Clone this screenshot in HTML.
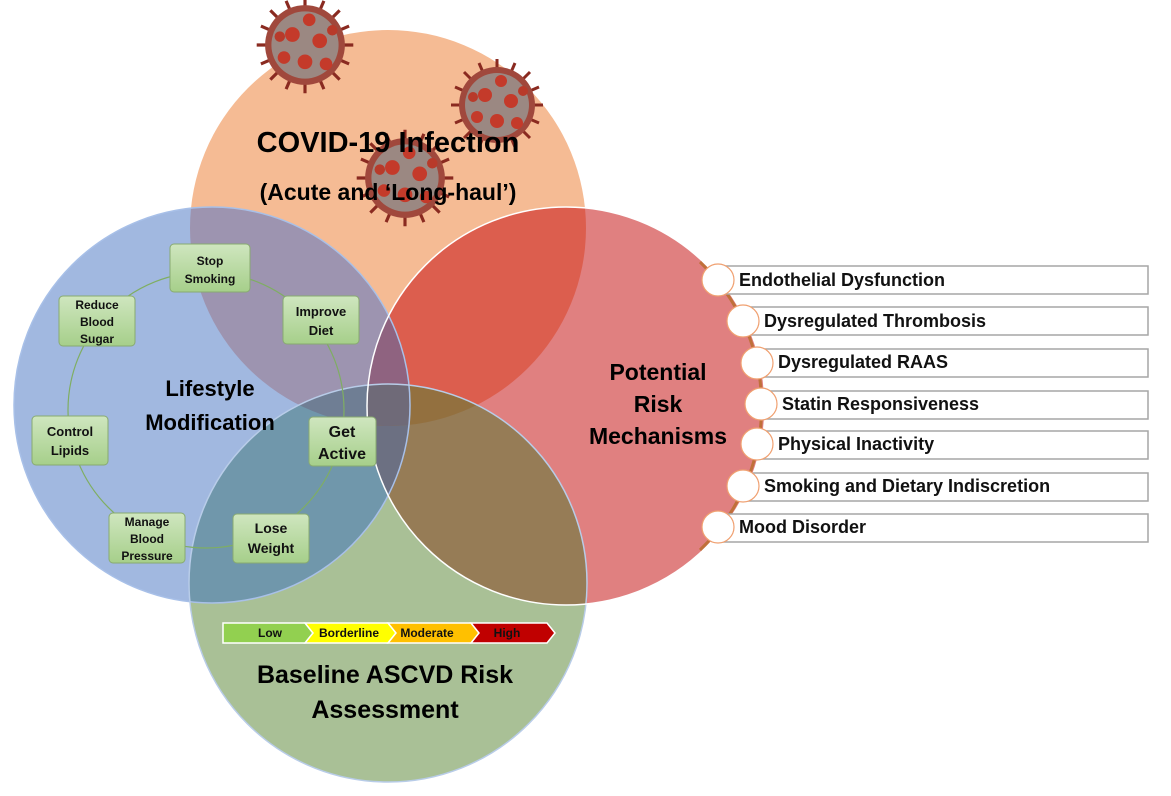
<!DOCTYPE html>
<html><head><style>
body{margin:0;background:#fff;}
svg text{font-family:"Liberation Sans",sans-serif;font-weight:bold;}
</style></head><body>
<svg width="1171" height="791" viewBox="0 0 1171 791" xmlns="http://www.w3.org/2000/svg">
<defs>
<clipPath id="cO"><circle cx="388" cy="228" r="198"/></clipPath>
<clipPath id="cB"><circle cx="212" cy="405" r="198"/></clipPath>
<clipPath id="cR"><circle cx="566" cy="406" r="199"/></clipPath>
<clipPath id="cG"><circle cx="388" cy="583" r="199"/></clipPath>
<linearGradient id="ng" x1="0" y1="0" x2="0" y2="1"><stop offset="0" stop-color="#cfe6bf"/><stop offset="1" stop-color="#a6cf8a"/></linearGradient>
<g id="virus">
 <g stroke="#8a2a20" stroke-width="3">
  <line x1="-46" y1="0" x2="46" y2="0"/><line x1="0" y1="-46" x2="0" y2="46"/>
  <line x1="-33" y1="-33" x2="33" y2="33"/><line x1="-33" y1="33" x2="33" y2="-33"/>
  <line x1="-42" y1="-18" x2="42" y2="18"/><line x1="-18" y1="-42" x2="18" y2="42"/>
  <line x1="-42" y1="18" x2="42" y2="-18"/><line x1="-18" y1="42" x2="18" y2="-42"/>
 </g>
 <circle r="38" fill="#a0483c"/>
 <circle r="32" fill="#9b8882"/>
 <circle cx="-12" cy="-10" r="7" fill="#c43a2a"/><circle cx="14" cy="-4" r="7" fill="#c43a2a"/>
 <circle cx="0" cy="16" r="7" fill="#c43a2a"/><circle cx="-20" cy="12" r="6" fill="#c43a2a"/>
 <circle cx="20" cy="18" r="6" fill="#c43a2a"/><circle cx="4" cy="-24" r="6" fill="#c43a2a"/>
 <circle cx="-24" cy="-8" r="5" fill="#b83a2a"/><circle cx="26" cy="-14" r="5" fill="#b83a2a"/>
</g>
</defs>

<circle cx="388" cy="228" r="198" fill="#f5bb94"/>
<circle cx="212" cy="405" r="198" fill="#a1b8e0"/>
<circle cx="566" cy="406" r="199" fill="#e08080"/>
<circle cx="388" cy="583" r="199" fill="#a9c096"/>
<g clip-path="url(#cO)"><circle cx="212" cy="405" r="198" fill="#9d94b0"/><circle cx="566" cy="406" r="199" fill="#dc5e4e"/></g>
<g clip-path="url(#cB)"><circle cx="388" cy="583" r="199" fill="#7097ab"/><circle cx="566" cy="406" r="199" fill="#8f6380"/></g>
<g clip-path="url(#cR)"><circle cx="388" cy="583" r="199" fill="#967c56"/></g>
<g clip-path="url(#cB)"><g clip-path="url(#cG)"><circle cx="566" cy="406" r="199" fill="#6c7082"/><circle cx="388" cy="228" r="198" fill="#6f7e94"/></g></g>
<g clip-path="url(#cR)"><g clip-path="url(#cG)"><circle cx="388" cy="228" r="198" fill="#93703f"/></g></g>
<g clip-path="url(#cB)"><g clip-path="url(#cG)"><g clip-path="url(#cR)"><circle cx="388" cy="228" r="198" fill="#6f6a78"/></g></g></g>
<circle cx="212" cy="405" r="198" fill="none" stroke="#a8c0e8" stroke-width="1.5"/>
<circle cx="388" cy="583" r="199" fill="none" stroke="#b8cce8" stroke-width="1.5"/>
<circle cx="566" cy="406" r="199" fill="none" stroke="#fff" stroke-width="1.5"/>

<use href="#virus" transform="translate(305,45) scale(1.05)"/>
<use href="#virus" transform="translate(497,105)"/>
<use href="#virus" transform="translate(405,178) scale(1.05)"/>

<text x="388" y="152" font-size="29" text-anchor="middle">COVID-19 Infection</text>
<text x="388" y="200" font-size="23" text-anchor="middle">(Acute and ‘Long-haul’)</text>
<text x="658" y="380" font-size="23" text-anchor="middle">Potential</text>
<text x="658" y="412" font-size="23" text-anchor="middle">Risk</text>
<text x="658" y="444" font-size="23" text-anchor="middle">Mechanisms</text>
<text x="210" y="396" font-size="22" text-anchor="middle">Lifestyle</text>
<text x="210" y="430" font-size="22" text-anchor="middle">Modification</text>
<text x="385" y="683" font-size="25" text-anchor="middle">Baseline ASCVD Risk</text>
<text x="385" y="718" font-size="25" text-anchor="middle">Assessment</text>

<circle cx="206" cy="410" r="138" fill="none" stroke="#7fae62" stroke-width="1.2"/>
<g stroke="#88aa70" stroke-width="1">
<rect x="170" y="244" width="80" height="48" rx="4" fill="url(#ng)"/>
<rect x="283" y="296" width="76" height="48" rx="4" fill="url(#ng)"/>
<rect x="309" y="417" width="67" height="49" rx="4" fill="url(#ng)"/>
<rect x="233" y="514" width="76" height="49" rx="4" fill="url(#ng)"/>
<rect x="109" y="513" width="76" height="50" rx="4" fill="url(#ng)"/>
<rect x="32" y="416" width="76" height="49" rx="4" fill="url(#ng)"/>
<rect x="59" y="296" width="76" height="50" rx="4" fill="url(#ng)"/>
</g>
<g text-anchor="middle" fill="#111">
<text x="210" y="265" font-size="12">Stop</text><text x="210" y="283" font-size="12">Smoking</text>
<text x="321" y="316" font-size="13">Improve</text><text x="321" y="335" font-size="13">Diet</text>
<text x="342" y="437" font-size="16">Get</text><text x="342" y="459" font-size="16">Active</text>
<text x="271" y="533" font-size="14">Lose</text><text x="271" y="553" font-size="14">Weight</text>
<text x="147" y="526" font-size="12">Manage</text><text x="147" y="543" font-size="12">Blood</text><text x="147" y="560" font-size="12">Pressure</text>
<text x="70" y="436" font-size="13">Control</text><text x="70" y="455" font-size="13">Lipids</text>
<text x="97" y="309" font-size="12">Reduce</text><text x="97" y="326" font-size="12">Blood</text><text x="97" y="343" font-size="12">Sugar</text>
</g>

<g stroke="#fff" stroke-width="1.5">
<polygon points="223,623 305,623 313,633 305,643 223,643" fill="#92d050"/>
<polygon points="305,623 388,623 396,633 388,643 305,643 313,633" fill="#ffff00"/>
<polygon points="388,623 471,623 479,633 471,643 388,643 396,633" fill="#ffc000"/>
<polygon points="471,623 547,623 555,633 547,643 471,643 479,633" fill="#c00000"/>
</g>
<g font-size="12" text-anchor="middle" fill="#111">
<text x="270" y="637">Low</text><text x="349" y="637">Borderline</text><text x="427" y="637">Moderate</text><text x="507" y="637">High</text>
</g>

<path d="M 700 262 A 199 199 0 0 1 700 550" fill="none" stroke="#c0703a" stroke-width="3"/>

<g stroke="#a6a6a6" stroke-width="1.5" fill="#fff">
<rect x="718" y="266" width="430" height="28"/>
<rect x="743" y="307" width="405" height="28"/>
<rect x="757" y="349" width="391" height="28"/>
<rect x="761" y="391" width="387" height="28"/>
<rect x="757" y="431" width="391" height="28"/>
<rect x="743" y="473" width="405" height="28"/>
<rect x="718" y="514" width="430" height="28"/>
</g>
<g stroke="#f0a070" stroke-width="1.2" fill="#fff">
<circle cx="718" cy="280" r="16"/><circle cx="743" cy="321" r="16"/><circle cx="757" cy="363" r="16"/>
<circle cx="761" cy="404" r="16"/><circle cx="757" cy="444" r="16"/><circle cx="743" cy="486" r="16"/><circle cx="718" cy="527" r="16"/>
</g>
<g font-size="18" fill="#111">
<text x="739" y="286">Endothelial Dysfunction</text>
<text x="764" y="327">Dysregulated Thrombosis</text>
<text x="778" y="368">Dysregulated RAAS</text>
<text x="782" y="410">Statin Responsiveness</text>
<text x="778" y="450">Physical Inactivity</text>
<text x="764" y="492">Smoking and Dietary Indiscretion</text>
<text x="739" y="533">Mood Disorder</text>
</g>
</svg>
</body></html>
